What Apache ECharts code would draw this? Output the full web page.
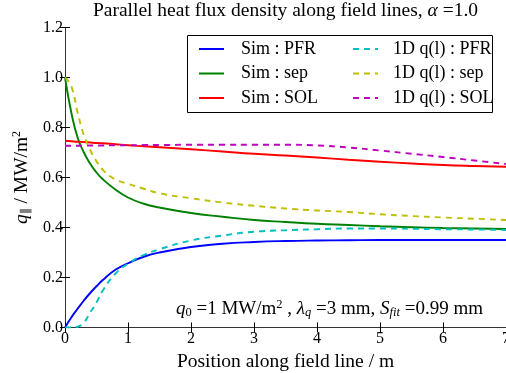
<!DOCTYPE html>
<html><head><meta charset="utf-8">
<script src="https://cdn.jsdelivr.net/npm/echarts@6/dist/echarts.min.js"></script>
<style>html,body{margin:0;padding:0;background:#fff}#c{width:506px;height:373px}</style>
</head><body><div id="c"></div>
<script>
// ---- data ----
const xs =        [0,    0.1,  0.2,   0.3,   0.4,   0.5,   0.6,   0.8,   1.0,   1.25,  1.5,   2,     2.5,   3,     3.5,   4,     4.5,   5,     5.5,   6,     6.5,   7];
const simPFR =    [0,    0.04, 0.075, 0.108, 0.138, 0.165, 0.19,  0.231, 0.257, 0.283, 0.3,   0.322, 0.335, 0.342, 0.346, 0.348, 0.349, 0.35,  0.35,  0.35,  0.35,  0.35];
const simSep =    [1.0,  0.86, 0.76,  0.70,  0.655, 0.62,  0.593, 0.552, 0.52,  0.495, 0.48,  0.458, 0.443, 0.43,  0.422, 0.415, 0.41,  0.405, 0.401, 0.398, 0.396, 0.394];
const simSOL =    [0.747,0.745,0.743, 0.742, 0.740, 0.738, 0.737, 0.733, 0.729, 0.725, 0.721, 0.713, 0.704, 0.695, 0.688, 0.680, 0.671, 0.663, 0.656, 0.650, 0.646, 0.643];
const odPFR =     [0,    0,    0.003, 0.02,  0.06,  0.1,   0.148, 0.215, 0.255, 0.29,  0.313, 0.348, 0.368, 0.383, 0.389, 0.393, 0.396, 0.396, 0.395, 0.393, 0.392, 0.39];
const odSep =     [1.0,  0.965,0.86,  0.77,  0.71,  0.665, 0.63,  0.592, 0.575, 0.555, 0.537, 0.517, 0.50,  0.487, 0.476, 0.468, 0.462, 0.453, 0.446, 0.44,  0.435, 0.43];
const odSOL =     [0.727,0.727,0.727, 0.727, 0.728, 0.728, 0.728, 0.729, 0.729, 0.730, 0.730, 0.731, 0.731, 0.731, 0.731, 0.728, 0.720, 0.708, 0.695, 0.682, 0.668, 0.654];
const seriesNames = ['Sim : PFR', 'Sim : sep', 'Sim : SOL', '1D q(l) : PFR', '1D q(l) : sep', '1D q(l) : SOL'];
const xTicks = [0, 1, 2, 3, 4, 5, 6, 7];
const yTicks = [0.0, 0.2, 0.4, 0.6, 0.8, 1.0, 1.2];

const F = 'Liberation Serif';
const colors = ['#0000ff', '#008000', '#ff0000', '#00bfbf', '#bfbf00', '#bf00bf'];
const vals = [simPFR, simSep, simSOL, odPFR, odSep, odSOL];
const series = vals.map((v, i) => ({
  name: seriesNames[i],
  type: 'line',
  data: xs.map((x, j) => [x, v[j]]),
  showSymbol: false,
  symbol: 'none',
  smooth: 0.5,
  lineStyle: { color: colors[i], width: 1.9, type: i < 3 ? 'solid' : [6, 5] },
  itemStyle: { color: colors[i], opacity: 0 },
  z: 2 + i
}));

const axisLine = { show: true, lineStyle: { color: '#333', width: 1 } };
const tick = { show: true, inside: true, length: 5, lineStyle: { color: '#000', width: 1 } };
const legendBase = {
  orient: 'vertical', top: 40, padding: 0, itemWidth: 25, itemHeight: 14, itemGap: 6.5,
  itemStyle: { opacity: 0 }
};
const chart = echarts.init(document.getElementById('c'), null, { renderer: 'canvas' });
chart.setOption({
  animation: false,
  backgroundColor: '#fff',
  grid: { left: 65, right: 0, top: 27.5, bottom: 45.5, containLabel: false, outerBoundsMode: 'none' },
  xAxis: [{
    type: 'value', min: xTicks[0], max: xTicks[xTicks.length - 1], interval: 1,
    axisLine, axisTick: tick, splitLine: { show: false },
    axisLabel: { fontFamily: F, fontSize: 16, color: '#000', margin: 3 },
    name: 'Position along field line / m', nameLocation: 'middle', nameGap: 21,
    nameTextStyle: { fontFamily: F, fontSize: 19.5, color: '#000' }
  }, {
    type: 'value', position: 'top', min: 0, max: 7, interval: 1,
    axisLine, axisTick: tick, axisLabel: { show: false }, splitLine: { show: false }
  }],
  yAxis: [{
    type: 'value', min: yTicks[0], max: yTicks[yTicks.length - 1], interval: 0.2,
    axisLine, axisTick: tick, splitLine: { show: false },
    axisLabel: { fontFamily: F, fontSize: 16, color: '#000', margin: 2, formatter: v => v.toFixed(1) },
    name: '{i|q}{sub|∥} / MW/m{sup|2}', nameLocation: 'middle', nameGap: 33, nameRotate: 90,
    nameTextStyle: { fontFamily: F, fontSize: 19.5, color: '#000',
      rich: { i: { fontFamily: F, fontStyle: 'italic', fontSize: 19.5 },
              sub: { fontFamily: F, fontSize: 12, verticalAlign: 'bottom', padding: [9, 0, 0, 0] },
              sup: { fontFamily: F, fontSize: 12, verticalAlign: 'top', padding: [0, 0, 9, 0] } } }
  }, {
    type: 'value', position: 'right', min: 0, max: 1.2, interval: 0.2,
    axisLine, axisTick: tick, axisLabel: { show: false }, splitLine: { show: false }
  }],
  legend: [Object.assign({}, legendBase, {
    left: 198,
    textStyle: { fontFamily: F, fontSize: 18, color: '#000', padding: [0, 0, 0, 12] },
    data: seriesNames.slice(0, 3)
  }), Object.assign({}, legendBase, {
    left: 352,
    textStyle: { fontFamily: F, fontSize: 18, color: '#000', padding: [0, 0, 0, 10] },
    data: seriesNames.slice(3)
  })],
  graphic: [
    { type: 'rect', shape: { x: 187.5, y: 35.5, width: 305, height: 77 }, style: { fill: 'none', stroke: '#000', lineWidth: 1 }, z: 10 },
    { type: 'text', x: 285.5, y: 11, style: {
        text: 'Parallel heat flux density along field lines, {i|α} =1.0', align: 'center', verticalAlign: 'middle',
        fontFamily: F, fontSize: 19.5, fill: '#000',
        rich: { i: { fontFamily: F, fontStyle: 'italic', fontSize: 19.5 } } } },
    { type: 'text', x: 483, y: 309, style: {
        text: '{i|q}{sub|0} =1 MW/m{sup|2} , {i|λ}{subi|q} =3 mm, {i|S}{subi|fit} =0.99 mm', align: 'right', verticalAlign: 'middle',
        fontFamily: F, fontSize: 19, fill: '#000',
        rich: { i: { fontFamily: F, fontStyle: 'italic', fontSize: 19 },
                sub: { fontFamily: F, fontSize: 12.5, verticalAlign: 'bottom', padding: [8, 0, 0, 0] },
                subi: { fontFamily: F, fontStyle: 'italic', fontSize: 12.5, verticalAlign: 'bottom', padding: [8, 0, 0, 0] },
                sup: { fontFamily: F, fontSize: 12.5, verticalAlign: 'top', padding: [0, 0, 8, 0] } } } }
  ],
  series
});
</script></body></html>
